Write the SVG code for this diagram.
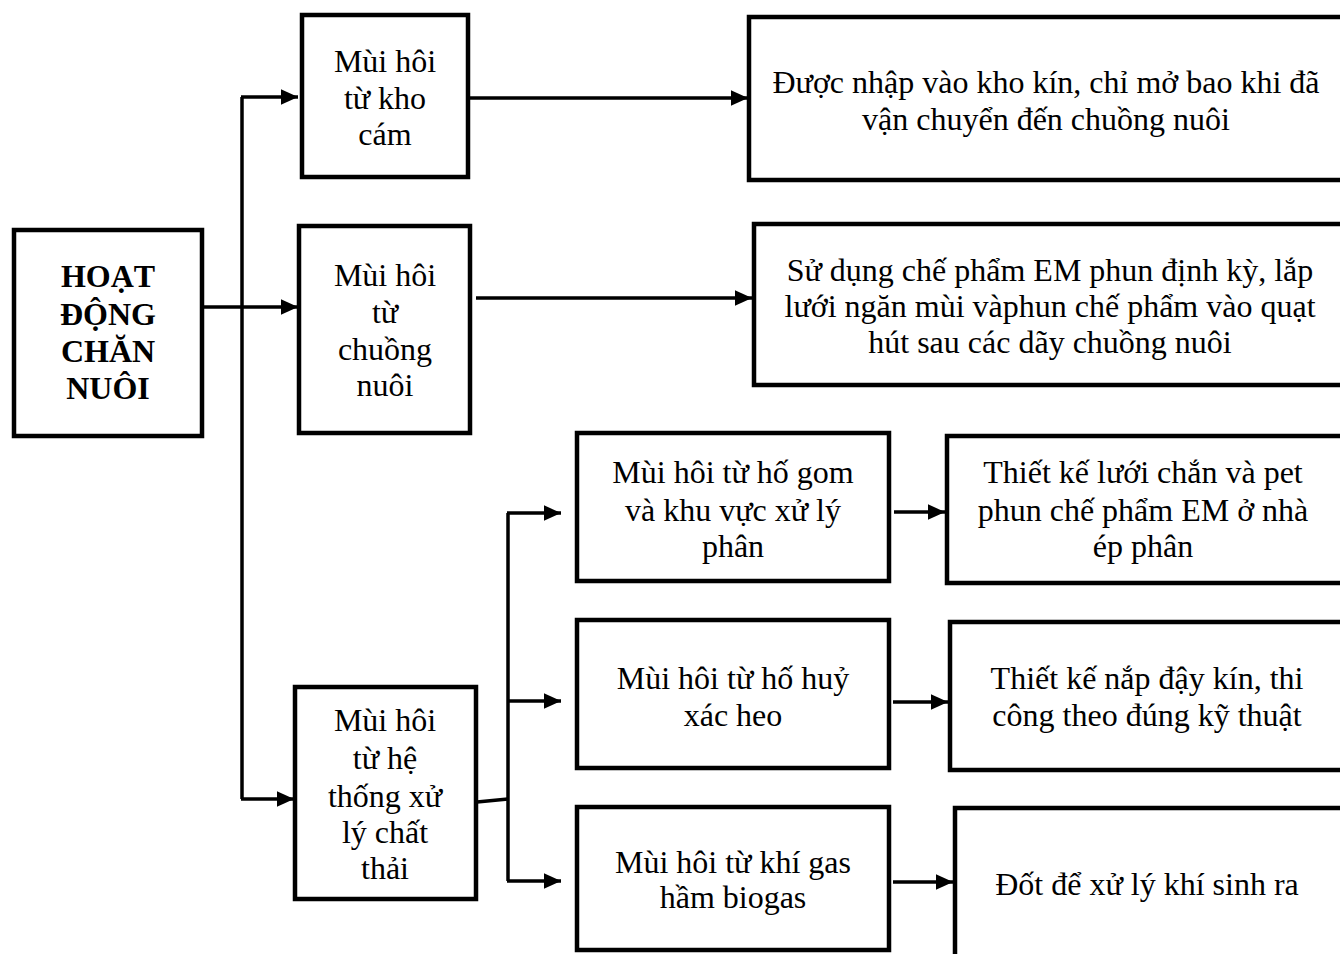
<svg xmlns="http://www.w3.org/2000/svg" width="1340" height="954" viewBox="0 0 1340 954">
<defs>
<marker id="ah" viewBox="0 0 10 10" refX="10" refY="5" markerWidth="5" markerHeight="4.5" markerUnits="strokeWidth" orient="auto" preserveAspectRatio="none">
<path d="M0,0 L10,5 L0,10 z" fill="#000"/>
</marker>
<style>
.box{fill:#fff;stroke:#000;stroke-width:4.5}
.t{font-family:'Liberation Serif','Times New Roman','DejaVu Serif',serif;font-size:32px;fill:#000;text-anchor:middle}
.b{font-weight:bold}
.c{fill:none;stroke:#000;stroke-width:3.5}
.a{marker-end:url(#ah)}
</style>
</defs>
<rect width="1340" height="954" fill="#fff"/>
<g id="connectors">
<path class="c" d="M242,97 L242,799"/>
<path class="c a" d="M241,97 L298,97"/>
<path class="c a" d="M203,307 L298,307"/>
<path class="c a" d="M241,799 L294,799"/>
<path class="c a" d="M470,98 L748,98"/>
<path class="c a" d="M476,298 L752,298"/>
<path class="c" d="M477,802 L508,799"/>
<path class="c" d="M508,513 L508,881"/>
<path class="c a" d="M507,513 L561,513"/>
<path class="c a" d="M507,701 L561,701"/>
<path class="c a" d="M507,881 L561,881"/>
<path class="c a" d="M894,512 L945,512"/>
<path class="c a" d="M893,702 L948,702"/>
<path class="c a" d="M893,882 L953,882"/>
</g>
<g id="n-hoat">
<rect class="box" x="14" y="230" width="188" height="206"/>
<text class="t b" x="108" y="287">HOẠT</text>
<text class="t b" x="108" y="325">ĐỘNG</text>
<text class="t b" x="108" y="362">CHĂN</text>
<text class="t b" x="108" y="399">NUÔI</text>
</g>
<g id="n-khocam">
<rect class="box" x="302" y="15" width="166" height="162"/>
<text class="t" x="385" y="72">Mùi hôi</text>
<text class="t" x="385" y="109">từ kho</text>
<text class="t" x="385" y="145">cám</text>
</g>
<g id="n-chuong">
<rect class="box" x="299" y="226" width="171" height="207"/>
<text class="t" x="385" y="286">Mùi hôi</text>
<text class="t" x="385" y="323">từ</text>
<text class="t" x="385" y="360">chuồng</text>
<text class="t" x="385" y="396">nuôi</text>
</g>
<g id="n-xuly">
<rect class="box" x="295" y="687" width="181" height="212"/>
<text class="t" x="385" y="731">Mùi hôi</text>
<text class="t" x="385" y="769">từ hệ</text>
<text class="t" x="385" y="807">thống xử</text>
<text class="t" x="385" y="843">lý chất</text>
<text class="t" x="385" y="879">thải</text>
</g>
<g id="n-nhap">
<rect class="box" x="749" y="17" width="600" height="163"/>
<text class="t" x="1046" y="93">Được nhập vào kho kín, chỉ mở bao khi đã</text>
<text class="t" x="1046" y="130">vận chuyển đến chuồng nuôi</text>
</g>
<g id="n-sudung">
<rect class="box" x="754" y="224" width="600" height="161"/>
<text class="t" x="1050" y="281">Sử dụng chế phẩm EM phun định kỳ, lắp</text>
<text class="t" x="1050" y="317">lưới ngăn mùi vàphun chế phẩm vào quạt</text>
<text class="t" x="1050" y="353">hút sau các dãy chuồng nuôi</text>
</g>
<g id="n-hogom">
<rect class="box" x="577" y="433" width="312" height="148"/>
<text class="t" x="733" y="483">Mùi hôi từ hố gom</text>
<text class="t" x="733" y="521">và khu vực xử lý</text>
<text class="t" x="733" y="557">phân</text>
</g>
<g id="n-luoi">
<rect class="box" x="947" y="436" width="400" height="147"/>
<text class="t" x="1143" y="483">Thiết kế lưới chắn và pet</text>
<text class="t" x="1143" y="521">phun chế phẩm EM ở nhà</text>
<text class="t" x="1143" y="557">ép phân</text>
</g>
<g id="n-hohuy">
<rect class="box" x="577" y="620" width="312" height="148"/>
<text class="t" x="733" y="689">Mùi hôi từ hố huỷ</text>
<text class="t" x="733" y="726">xác heo</text>
</g>
<g id="n-napday">
<rect class="box" x="950" y="622" width="400" height="148"/>
<text class="t" x="1147" y="689">Thiết kế nắp đậy kín, thi</text>
<text class="t" x="1147" y="726">công theo đúng kỹ thuật</text>
</g>
<g id="n-khigas">
<rect class="box" x="577" y="807" width="312" height="143"/>
<text class="t" x="733" y="873">Mùi hôi từ khí gas</text>
<text class="t" x="733" y="908">hầm biogas</text>
</g>
<g id="n-dot">
<rect class="box" x="955" y="808" width="400" height="160"/>
<text class="t" x="1147" y="895">Đốt để xử lý khí sinh ra</text>
</g>
</svg>
